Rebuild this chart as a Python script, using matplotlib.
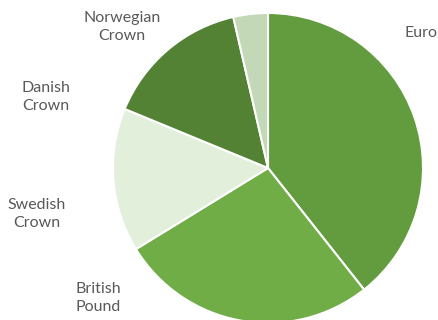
import matplotlib.pyplot as plt

currencies = ["Euro", "British\nPound", "Swedish\nCrown", "Danish\nCrown", "Norwegian\nCrown"]
shares = [39.4, 26.9, 15.0, 15.2, 3.6]
colors = ["#629c3e", "#70ad47", "#e2efda", "#548235", "#c3d8b7"]

# label anchor points in pixels (x, y from top)
label_px = [(421, 33), (98, 298), (37, 214), (46, 97), (122, 27)]

W, H = 438, 320
fig = plt.figure(figsize=(W / 100, H / 100), dpi=100)

cx, cy, r = 268, 168, 155
ax = fig.add_axes([(cx - r) / W, (H - cy - r) / H, 2 * r / W, 2 * r / H])
ax.pie(shares, colors=colors, startangle=90, counterclock=False,
       wedgeprops=dict(edgecolor="white", linewidth=1.5))
ax.set_xlim(-1, 1)
ax.set_ylim(-1, 1)
ax.set_aspect("equal")
ax.axis("off")

for name, (x, y) in zip(currencies, label_px):
    fig.text(x / W, 1 - y / H, name, ha="center", va="center",
             fontsize=11.5, color="#595959", family=["Lato", "DejaVu Sans"],
             linespacing=1.3)

fig.savefig("out.png", dpi=100)
